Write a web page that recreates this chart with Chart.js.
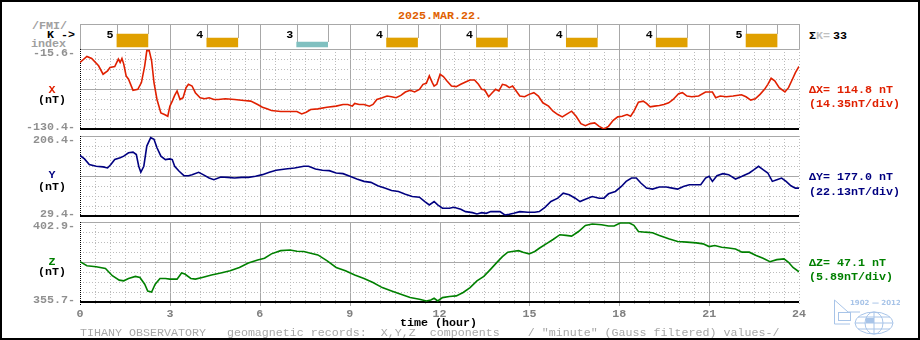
<!DOCTYPE html>
<html>
<head>
<meta charset="utf-8">
<script src="https://cdn.jsdelivr.net/npm/chart.js@4.4.1/dist/chart.umd.min.js"></script>
<style>
  body { margin: 0; background: #fff; }
  #page { position: relative; width: 920px; height: 340px; overflow: hidden; background: #fff;
    font-family: 'Liberation Mono', 'DejaVu Sans Mono', monospace; font-size: 11.67px; font-weight: bold; }
  #frame { position: absolute; left: 0; top: 0; width: 920px; height: 340px; box-sizing: border-box; border: 2px solid #000; }
  .box { position: absolute; left: 0; }
  .box canvas { display: block; }
  .t { position: absolute; white-space: pre; line-height: 14px; }
  .c { width: 40px; left: 32px; text-align: center; }
  .gray { color: #a0a0a0; }
  .red { color: #e02000; }
  .navy { color: #000080; }
  .green { color: #008000; }
</style>
</head>
<body>
<div id="page">
  <div class="t" style="left:398px;top:9px;color:#e06000">2025.MAR.22.</div>
  <div class="t gray" style="left:32px;top:19px">/FMI/</div>
  <div class="t" style="left:47px;top:28px">K -&gt;</div>
  <div class="t gray" style="left:31px;top:37px">index</div>
  <div class="t" style="left:809px;top:29px">&Sigma;<span style="color:#c0c0c0">K=</span><span id="ksum" style="margin-left:3px"></span></div>

  <div class="box" style="top:20px"><canvas id="kChart" width="811" height="32"></canvas></div>
  <div class="box" style="top:37px"><canvas id="xChart" width="811" height="104"></canvas></div>
  <div class="box" style="top:124px"><canvas id="yChart" width="811" height="104"></canvas></div>
  <div class="box" style="top:210px"><canvas id="zChart" width="811" height="111"></canvas></div>

  <div class="t c red" style="top:83px">X</div>
  <div class="t c" style="top:93px">(nT)</div>
  <div class="t c navy" style="top:168px">Y</div>
  <div class="t c" style="top:180px">(nT)</div>
  <div class="t c green" style="top:255px">Z</div>
  <div class="t c" style="top:265px">(nT)</div>

  <div class="t red" style="left:809px;top:83px">&Delta;X= 114.8 nT</div>
  <div class="t red" style="left:809px;top:97px">(14.35nT/div)</div>
  <div class="t navy" style="left:809px;top:170px">&Delta;Y= 177.0 nT</div>
  <div class="t navy" style="left:809px;top:185px">(22.13nT/div)</div>
  <div class="t green" style="left:809px;top:256px">&Delta;Z= 47.1 nT</div>
  <div class="t green" style="left:809px;top:270px">(5.89nT/div)</div>

  <div class="t" style="left:400px;top:316px">time (hour)</div>
  <div class="t" style="left:80px;top:326px;color:#a8a8a8;font-weight:normal">TIHANY OBSERVATORY   geomagnetic records:  X,Y,Z  components    / &quot;minute&quot; (Gauss filtered) values-/</div>

  <svg style="position:absolute;left:830px;top:296px" width="70" height="42" viewBox="0 0 70 42">
    <text x="20" y="9" fill="#a8c4e8" font-family="DejaVu Sans" font-size="7">1902 &#8212; 2012</text>
    <g fill="none" stroke="#a8c4e8" stroke-width="1">
      <polyline points="4.5,4 4.5,28 20,28"/>
      <polyline points="4.5,4 18,16 30,16"/>
      <rect x="8.5" y="16.5" width="12" height="8"/>
      <ellipse cx="44" cy="27" rx="19" ry="11"/>
      <ellipse cx="44" cy="27" rx="9" ry="11"/>
      <line x1="44" y1="16" x2="44" y2="38"/>
      <line x1="25" y1="27" x2="63" y2="27"/>
      <line x1="28" y1="21" x2="60" y2="21"/>
      <line x1="28" y1="33" x2="60" y2="33"/>
    </g>
    <rect x="36" y="22" width="8" height="5" fill="#a8c4e8"/>
  </svg>
  <div id="frame"></div>
</div>

<script>
// K index, one value per 3-hour block
const kStart = [0, 3, 6, 9, 12, 15, 18, 21];
const kIndex = [5, 4, 3, 4, 4, 4, 4, 5];

// X component (nT)
const xHours = [0, 0.23, 0.39, 0.62, 0.77, 0.92, 1.00, 1.16, 1.28, 1.34,
  1.40, 1.46, 1.54, 1.62, 1.77, 1.93, 2.05, 2.16, 2.23, 2.31,
  2.39, 2.47, 2.57, 2.70, 2.82, 2.93, 3.00, 3.08, 3.16, 3.24,
  3.34, 3.44, 3.54, 3.62, 3.74, 3.85, 4.01, 4.16, 4.31, 4.47,
  4.62, 4.85, 5.16, 5.47, 5.70, 5.93, 6.09, 6.24, 6.39, 6.70,
  7.01, 7.24, 7.40, 7.55, 7.70, 7.94, 8.24, 8.55, 8.78, 8.94,
  9.09, 9.17, 9.32, 9.48, 9.66, 9.78, 9.91, 10.09, 10.25, 10.40,
  10.55, 10.71, 10.86, 11.02, 11.17, 11.33, 11.45, 11.56, 11.66, 11.76,
  11.82, 11.91, 12.02, 12.13, 12.25, 12.40, 12.56, 12.71, 12.87, 13.02,
  13.17, 13.30, 13.41, 13.51, 13.64, 13.76, 13.87, 13.98, 14.10, 14.22,
  14.33, 14.44, 14.56, 14.68, 14.84, 14.99, 15.15, 15.30, 15.45, 15.64,
  15.79, 15.95, 16.10, 16.22, 16.41, 16.56, 16.72, 16.87, 17.03, 17.18,
  17.33, 17.49, 17.64, 17.80, 17.95, 18.10, 18.26, 18.38, 18.49, 18.64,
  18.80, 18.91, 19.03, 19.18, 19.34, 19.49, 19.65, 19.80, 19.98, 20.11,
  20.26, 20.42, 20.65, 20.88, 21.11, 21.22, 21.37, 21.57, 21.80, 22.08,
  22.23, 22.39, 22.54, 22.70, 22.85, 22.96, 23.07, 23.19, 23.34, 23.53,
  23.65, 23.78, 23.88, 24.00];
const xValues = [-34.9, -26.2, -29.1, -39.7, -51.8, -47.0, -42.1, -40.7, -30.1, -34.9,
  -29.1, -37.3, -54.2, -59.0, -74.9, -73.5, -63.8, -39.7, -18.0, -18.0,
  -32.5, -63.8, -88.0, -107.3, -109.7, -112.1, -97.6, -90.4, -82.2, -75.9,
  -88.0, -85.5, -71.1, -66.3, -68.7, -78.3, -85.5, -87.0, -85.5, -88.0,
  -88.0, -87.0, -88.0, -89.4, -90.4, -95.2, -99.1, -101.5, -103.9, -105.3,
  -105.3, -105.3, -108.7, -106.3, -102.4, -101.5, -99.1, -97.6, -95.2, -95.2,
  -97.6, -93.7, -95.2, -95.2, -97.6, -95.2, -88.0, -85.5, -83.1, -84.1,
  -85.5, -82.2, -77.3, -74.9, -77.3, -73.5, -66.3, -64.8, -54.2, -63.8,
  -68.7, -66.3, -51.8, -55.2, -61.4, -68.7, -69.6, -66.3, -62.9, -60.0,
  -60.0, -66.3, -73.5, -74.5, -84.1, -78.3, -73.5, -75.9, -66.3, -67.7,
  -71.1, -68.7, -75.9, -83.1, -84.1, -80.7, -78.3, -83.1, -92.8, -97.6,
  -104.8, -109.7, -113.0, -109.7, -104.8, -112.1, -122.7, -125.6, -122.7, -121.7,
  -126.6, -130.4, -126.6, -117.9, -113.0, -112.1, -109.7, -112.1, -104.8, -91.8,
  -90.4, -93.7, -98.6, -97.6, -96.6, -95.2, -92.8, -88.0, -79.8, -78.3,
  -83.1, -84.1, -83.1, -77.3, -77.3, -85.5, -83.1, -84.1, -83.1, -81.2,
  -84.1, -88.9, -87.0, -80.7, -73.5, -66.3, -57.6, -61.4, -71.1, -77.3,
  -71.1, -59.0, -49.4, -40.7];

// Y component (nT)
const yHours = [0, 0.15, 0.31, 0.54, 0.77, 0.92, 1.03, 1.16, 1.34, 1.46,
  1.62, 1.77, 1.88, 1.96, 2.03, 2.13, 2.23, 2.36, 2.47, 2.57,
  2.70, 2.85, 3.00, 3.08, 3.16, 3.31, 3.47, 3.62, 3.74, 3.96,
  4.11, 4.31, 4.47, 4.70, 4.93, 5.16, 5.39, 5.62, 5.86, 6.09,
  6.32, 6.55, 6.86, 7.16, 7.47, 7.63, 7.86, 8.09, 8.32, 8.55,
  8.78, 9.01, 9.24, 9.48, 9.71, 9.94, 10.17, 10.40, 10.63, 10.86,
  11.09, 11.33, 11.51, 11.66, 11.82, 11.94, 12.10, 12.33, 12.48, 12.71,
  12.87, 13.10, 13.25, 13.41, 13.56, 13.71, 13.87, 14.02, 14.18, 14.33,
  14.48, 14.68, 14.95, 15.18, 15.33, 15.52, 15.72, 15.95, 16.13, 16.33,
  16.53, 16.69, 16.87, 17.10, 17.33, 17.49, 17.64, 17.87, 18.07, 18.23,
  18.41, 18.57, 18.72, 18.91, 19.11, 19.34, 19.57, 19.77, 19.95, 20.14,
  20.34, 20.57, 20.72, 20.88, 21.00, 21.11, 21.26, 21.46, 21.65, 21.88,
  22.10, 22.34, 22.50, 22.65, 22.80, 22.96, 23.11, 23.26, 23.42, 23.57,
  23.73, 23.88, 24.00];
const yValues = [163.3, 155.8, 143.2, 139.5, 138.0, 135.7, 143.2, 154.3, 158.1, 161.8,
  169.2, 170.7, 165.5, 139.5, 126.1, 139.5, 184.1, 202.7, 199.0, 180.4,
  161.8, 154.3, 155.8, 154.3, 139.5, 128.3, 118.6, 118.6, 120.9, 126.1,
  120.9, 113.4, 109.7, 115.7, 114.9, 113.4, 114.9, 114.9, 117.2, 120.9,
  126.1, 130.5, 133.5, 135.7, 139.5, 139.5, 133.5, 130.5, 129.8, 124.6,
  123.1, 117.2, 111.2, 106.0, 103.8, 96.3, 91.1, 85.9, 83.7, 77.7,
  72.5, 71.0, 61.4, 53.9, 61.4, 53.9, 46.5, 46.5, 48.7, 44.3,
  39.1, 36.8, 33.9, 36.8, 35.3, 39.1, 39.1, 39.1, 31.6, 33.1,
  35.3, 39.1, 37.6, 37.6, 39.1, 48.7, 61.4, 68.8, 80.0, 76.3,
  68.8, 61.4, 66.6, 72.5, 68.8, 68.8, 78.5, 83.7, 94.8, 106.0,
  113.4, 113.4, 102.3, 91.1, 88.9, 93.4, 93.4, 91.1, 88.9, 94.8,
  98.6, 98.6, 98.6, 113.4, 117.2, 106.0, 118.6, 123.1, 120.9, 111.2,
  117.2, 124.6, 132.0, 139.5, 132.0, 124.6, 106.0, 109.7, 113.4, 106.0,
  96.3, 91.1, 91.1];

// Z component (nT)
const zHours = [0, 0.23, 0.54, 0.85, 1.08, 1.31, 1.46, 1.62, 1.85, 2.00,
  2.16, 2.26, 2.39, 2.51, 2.67, 2.85, 3.00, 3.24, 3.39, 3.50,
  3.70, 3.85, 4.08, 4.39, 4.70, 5.01, 5.32, 5.62, 5.93, 6.16,
  6.39, 6.70, 7.01, 7.24, 7.47, 7.70, 7.94, 8.24, 8.55, 8.86,
  9.17, 9.48, 9.78, 10.09, 10.40, 10.71, 11.02, 11.33, 11.56, 11.71,
  11.82, 11.94, 12.10, 12.33, 12.56, 12.79, 13.02, 13.25, 13.48, 13.71,
  13.94, 14.10, 14.28, 14.48, 14.64, 14.79, 14.99, 15.18, 15.33, 15.56,
  15.79, 16.02, 16.22, 16.41, 16.64, 16.87, 17.10, 17.41, 17.64, 17.83,
  18.03, 18.34, 18.49, 18.64, 18.87, 19.11, 19.34, 19.65, 19.95, 20.26,
  20.57, 20.80, 21.00, 21.19, 21.42, 21.65, 21.88, 22.10, 22.34, 22.57,
  22.80, 23.03, 23.26, 23.50, 23.65, 23.80, 24.00];
const zValues = [379.5, 377.1, 376.5, 375.5, 371.2, 368.6, 368.2, 369.6, 370.8, 370.2,
  366.2, 362.2, 361.6, 366.2, 369.6, 369.6, 369.2, 369.2, 372.8, 372.2,
  369.6, 369.2, 370.2, 371.6, 372.8, 374.1, 376.1, 378.7, 380.5, 381.5,
  384.1, 386.0, 386.4, 385.6, 385.5, 384.5, 383.5, 380.1, 376.1, 374.1,
  371.6, 369.6, 367.2, 364.2, 362.2, 360.3, 358.3, 357.3, 356.3, 356.9,
  357.9, 356.3, 358.3, 358.9, 359.3, 361.3, 364.2, 368.2, 370.8, 375.1,
  379.5, 382.5, 385.1, 385.6, 386.0, 385.1, 384.1, 385.5, 387.4, 390.0,
  392.6, 395.4, 395.0, 394.6, 397.3, 400.9, 401.7, 401.3, 400.5, 400.5,
  402.3, 402.3, 400.9, 397.3, 396.9, 396.6, 395.0, 393.0, 391.4, 391.0,
  390.6, 390.0, 388.4, 389.0, 388.0, 387.6, 387.0, 385.1, 385.1, 383.1,
  381.5, 379.5, 380.7, 381.1, 379.1, 376.1, 373.5];

Chart.defaults.font.family = "'Liberation Mono', 'DejaVu Sans Mono', monospace";
Chart.defaults.font.size = 11.67;
Chart.defaults.font.weight = 'bold';

const gray = '#a8a8a8';
const dotGray = '#bcbcbc';
const crisp = v => Math.round(v) + 0.5;

function vline(ctx, x, y1, y2) {
  ctx.beginPath(); ctx.moveTo(x, y1); ctx.lineTo(x, y2); ctx.stroke();
}
function hline(ctx, y, x1, x2) {
  ctx.beginPath(); ctx.moveTo(x1, y); ctx.lineTo(x2, y); ctx.stroke();
}

// grid of the X/Y/Z panels: dotted every half hour and every division, solid every 3 h
const panelGrid = {
  id: 'panelGrid',
  beforeDatasetsDraw(chart, args, opts) {
    const { ctx, chartArea: a, scales: { x, y } } = chart;
    const below = opts.below || 0;
    ctx.save();
    ctx.lineWidth = 1;
    for (let h = 0.5; h <= 24; h += 0.5) {
      const solid = h % 3 === 0 && h < 24;
      ctx.strokeStyle = solid ? gray : dotGray;
      ctx.setLineDash(solid ? [] : [1, 2]);
      vline(ctx, crisp(x.getPixelForValue(h)), a.top, a.bottom + below);
    }
    const step = (y.max - y.min) / 8;
    for (let i = 1; i < 8; i++) {
      ctx.strokeStyle = i === 4 ? gray : dotGray;
      ctx.setLineDash(i === 4 ? [] : [1, 2]);
      hline(ctx, crisp(y.getPixelForValue(y.min + i * step)), a.left, a.right);
    }
    ctx.strokeStyle = gray;
    ctx.setLineDash([]);
    hline(ctx, crisp(a.top), a.left, a.right);
    ctx.strokeStyle = '#000';
    ctx.setLineDash([1, 1]);
    vline(ctx, crisp(a.left), a.top, a.bottom + below);
    ctx.setLineDash([]);
    ctx.lineWidth = 2;
    hline(ctx, Math.round(a.bottom), a.left, a.right);
    ctx.restore();
  }
};

// K row: 3 h cells, bar frames and the K digit
const kPanel = {
  id: 'kPanel',
  beforeDatasetsDraw(chart) {
    const { ctx, chartArea: a, scales: { x } } = chart;
    ctx.save();
    ctx.strokeStyle = gray;
    ctx.lineWidth = 1;
    for (let h = 0; h <= 24; h += 3) vline(ctx, crisp(x.getPixelForValue(h)), a.top, a.bottom);
    hline(ctx, crisp(a.top), a.left, a.right);
    hline(ctx, crisp(a.bottom), a.left, a.right);
    chart.getDatasetMeta(0).data.forEach(bar => {
      vline(ctx, crisp(bar.x - bar.width / 2), a.top, bar.y);
      vline(ctx, crisp(bar.x + bar.width / 2), a.top, bar.y);
    });
    ctx.fillStyle = '#000';
    ctx.font = "bold 11.67px 'Liberation Mono', monospace";
    ctx.textAlign = 'center';
    ctx.textBaseline = 'middle';
    kIndex.forEach((k, i) => ctx.fillText(String(k), x.getPixelForValue(kStart[i] + 1), a.top + 11));
    ctx.restore();
  }
};

new Chart(document.getElementById('kChart'), {
  type: 'bar',
  data: {
    datasets: [{
      data: kStart.map((h, i) => ({ x: h + 1.75, y: kIndex[i] })),
      base: 1.75,
      backgroundColor: kIndex.map(k => k >= 4 ? '#e0a000' : '#80c0c0'),
      barThickness: 31,
      borderWidth: 0
    }]
  },
  options: {
    responsive: false,
    animation: false,
    events: [],
    layout: { padding: { left: 80, right: 12, top: 4, bottom: 3 } },
    plugins: { legend: { display: false }, tooltip: { enabled: false } },
    scales: {
      x: { type: 'linear', min: 0, max: 24, offset: false, display: false },
      y: { min: 1.25, max: 7.5, display: false }
    }
  },
  plugins: [kPanel]
});

document.getElementById('ksum').textContent = kIndex.reduce((s, k) => s + k, 0);

function makePanel(id, hours, values, color, min, max, showTime) {
  const xAxis = {
    type: 'linear', min: 0, max: 24, display: showTime,
    grid: { display: false, drawTicks: false },
    border: { display: false },
    ticks: { stepSize: 3, padding: 5, color: '#808080', maxRotation: 0, autoSkip: false }
  };
  if (showTime) xAxis.afterFit = s => { s.height = 19; };
  return new Chart(document.getElementById(id), {
    type: 'line',
    data: {
      datasets: [{
        data: hours.map((h, i) => ({ x: h, y: values[i] })),
        borderColor: color,
        borderWidth: 1.6,
        pointRadius: 0,
        tension: 0
      }]
    },
    options: {
      responsive: false,
      animation: false,
      events: [],
      layout: { padding: { top: 12, right: 12, bottom: showTime ? 0 : 12 } },
      plugins: {
        legend: { display: false },
        tooltip: { enabled: false },
        panelGrid: { below: showTime ? 4 : 0 }
      },
      scales: {
        x: xAxis,
        y: {
          min: min, max: max,
          afterFit: s => { s.width = 80; },
          // min/max labels sit just inside the panel, as on the original plot
          afterBuildTicks: s => {
            const r = s.max - s.min;
            s.ticks = [{ value: s.min + 0.03 * r }, { value: s.max - 0.045 * r }];
          },
          grid: { display: false, drawTicks: false },
          border: { display: false },
          ticks: {
            padding: 5, color: '#909090',
            callback: function (v, i) { return (i === 0 ? this.min : this.max).toFixed(1) + '-'; }
          }
        }
      }
    },
    plugins: [panelGrid]
  });
}

makePanel('xChart', xHours, xValues, '#e02000', -130.4, -15.6, false);
makePanel('yChart', yHours, yValues, '#000080', 29.4, 206.4, false);
makePanel('zChart', zHours, zValues, '#008000', 355.7, 402.9, true);
</script>
</body>
</html>
